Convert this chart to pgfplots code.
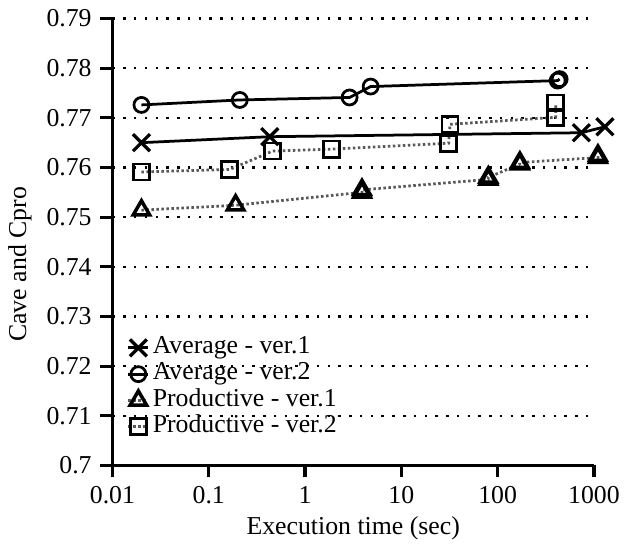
\documentclass[border=0pt]{standalone}
\usepackage{fontspec}
\setmainfont{Liberation Serif}
\usepackage{pgfplots}
\pgfplotsset{compat=1.18}

\begin{document}
\begin{tikzpicture}
\begin{axis}[
    scale only axis,
    width=192.4pt, height=178.6pt,
    xmode=log, xmin=0.01, xmax=1000,
    ymin=0.7, ymax=0.79,
    axis x line=bottom, axis y line=left,
    axis line style={-, line width=1.3pt},
    tick align=outside,
    major tick length=4.8pt,
    tick style={line width=1.3pt, black},
    xminorticks=false,
    xtick={0.01,0.1,1,10,100,1000},
    xticklabels={0.01,0.1,1,10,100,1000},
    ytick={0.7,0.71,0.72,0.73,0.74,0.75,0.76,0.77,0.78,0.79},
    yticklabel style={/pgf/number format/fixed, /pgf/number format/precision=2},
    /pgf/number format/assume math mode=true,
    ticklabel style={font=\fontsize{10.3}{12}\selectfont},
    ymajorgrids,
    major grid style={black, line width=1pt, dash pattern=on 1pt off 3.3pt},
    xlabel={Execution time (sec)},
    ylabel={Cave and Cpro},
    label style={font=\fontsize{10.3}{12}\selectfont},
    ylabel style={at={(axis description cs:-0.192,0.45)}, anchor=center},
    xlabel style={at={(axis description cs:0.5,0)}, yshift=-25pt, anchor=center},
    clip=false,
    legend style={draw=none, fill=none, at={(axis description cs:0.0135,0.302)}, anchor=north west,
        font=\fontsize{10.3}{12}\selectfont,
        nodes={inner sep=0pt, text height=0.7em, text depth=0.25em, anchor=west},
        row sep=1pt, column sep=1.2pt},
    legend cell align=left,
    legend image code/.code={\draw[mark repeat=2, mark phase=2, #1] plot coordinates {(-4pt,0) (0pt,0) (4pt,0)};},
]
% Average - ver.1
\addplot[black, line width=1.1pt, mark=x, mark size=4.8pt, mark options={solid, line width=1.3pt}]
coordinates {(0.02,0.7650) (0.43,0.7662) (740,0.7670) (1300,0.7682)};
% Average - ver.2
\addplot[black, line width=1.1pt, mark=o, mark size=3pt, mark options={solid, line width=1.1pt}]
coordinates {(0.02,0.7726) (0.21,0.7736) (2.9,0.7741) (4.8,0.7763) (420,0.7775) (440,0.7778)};
% Productive - ver.1
\addplot[black!65, line width=1.1pt, dash pattern=on 1pt off 1pt, mark=triangle, mark size=3.8pt, mark options={solid, black, line width=1.4pt}]
coordinates {(0.02,0.7514) (0.19,0.7524) (3.9,0.7550) (3.9,0.7555) (80,0.7576) (80,0.7580) (170,0.7607) (170,0.7610) (1100,0.7620) (1100,0.7624)};
% Productive - ver.2
\addplot[black!65, line width=1.1pt, dash pattern=on 1pt off 1pt, mark=square, mark size=3.2pt, mark options={solid, black, line width=1.1pt}]
coordinates {(0.02,0.7591) (0.165,0.7596) (0.46,0.7633) (1.88,0.7637) (31,0.7649) (32,0.7687) (400,0.7701) (400,0.7730)};
\legend{Average - ver.1, Average - ver.2, Productive - ver.1, Productive - ver.2}
\path ([xshift=17.6pt,yshift=7.4pt]rel axis cs:1,1) coordinate (bbtr);
\end{axis}
\end{tikzpicture}
\end{document}
